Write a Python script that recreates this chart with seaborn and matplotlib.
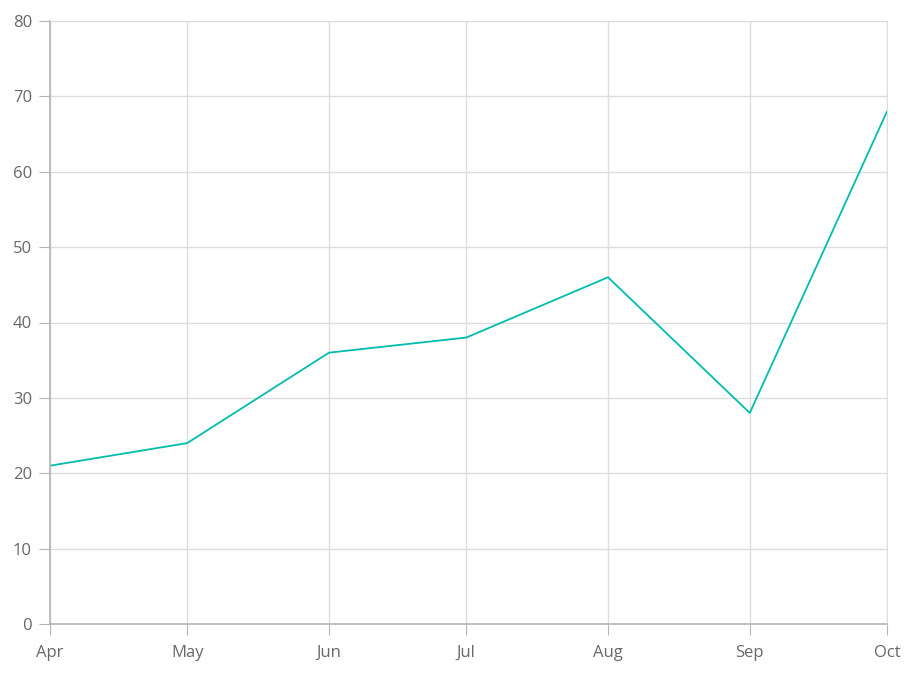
import pandas as pd
import matplotlib
matplotlib.use("Agg")
import matplotlib.pyplot as plt
import matplotlib.dates as mdates
import seaborn as sns

# data
months = ["2023-04-01", "2023-05-01", "2023-06-01", "2023-07-01",
          "2023-08-01", "2023-09-01", "2023-10-01"]
values = [21, 24, 36, 38, 46, 28, 68]
y_ticks = [0, 10, 20, 30, 40, 50, 60, 70, 80]

df = pd.DataFrame({"month": pd.to_datetime(months), "value": values})

sns.set_style("white")
plt.rcParams["font.family"] = ["Open Sans", "DejaVu Sans"]

fig = plt.figure(figsize=(9.18, 6.78), dpi=100)
ax = fig.add_axes([50 / 918, 1 - 624 / 678, 837 / 918, 603 / 678])

sns.lineplot(data=df, x="month", y="value", ax=ax, color="#00bdae",
             linewidth=1.3)

ax.set_xlim(df["month"].iloc[0], df["month"].iloc[-1])
ax.set_ylim(0, 80)
ax.set_yticks(y_ticks)
ax.xaxis.set_major_locator(mdates.MonthLocator())
ax.xaxis.set_major_formatter(mdates.DateFormatter("%b"))
ax.set_xlabel("")
ax.set_ylabel("")

ax.grid(True, color="#dddddd", linewidth=1)
ax.set_axisbelow(True)
for side in ["top", "right"]:
    ax.spines[side].set_color("#dddddd")
for side in ["left", "bottom"]:
    ax.spines[side].set_color("#b5b5b5")
    ax.spines[side].set_linewidth(1.2)

ax.tick_params(axis="x", length=8, color="#b5b5b5", pad=7,
               labelsize=12, labelcolor="#686868")
ax.tick_params(axis="y", length=8, color="#b5b5b5", pad=5,
               labelsize=12, labelcolor="#686868")
ax.tick_params(left=True, bottom=True)

fig.savefig("out.png", dpi=100)
